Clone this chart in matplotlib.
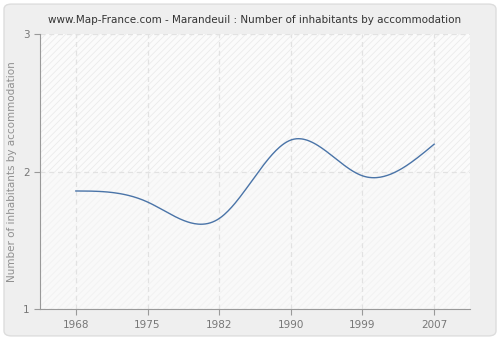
import numpy as np
import matplotlib.pyplot as plt
from matplotlib.patches import FancyBboxPatch

years = ["1968", "1975", "1982", "1990", "1999", "2007"]
inhabitants = [1.86, 1.78, 1.66, 2.23, 1.97, 2.20]
y_ticks = [1, 2, 3]


def natural_spline(x, y, n=300):
    # plain natural cubic spline, only used to draw a smooth line
    x = np.asarray(x, float)
    y = np.asarray(y, float)
    k = len(x)
    h = np.diff(x)
    A = np.zeros((k, k))
    b = np.zeros(k)
    A[0, 0] = A[-1, -1] = 1
    for i in range(1, k - 1):
        A[i, i - 1] = h[i - 1]
        A[i, i] = 2 * (h[i - 1] + h[i])
        A[i, i + 1] = h[i]
        b[i] = 6 * ((y[i + 1] - y[i]) / h[i] - (y[i] - y[i - 1]) / h[i - 1])
    m = np.linalg.solve(A, b)
    xs = np.linspace(x[0], x[-1], n)
    idx = np.clip(np.searchsorted(x, xs) - 1, 0, k - 2)
    t = xs - x[idx]
    hi = h[idx]
    a = (m[idx + 1] - m[idx]) / (6 * hi)
    bb = m[idx] / 2
    c = (y[idx + 1] - y[idx]) / hi - hi * (2 * m[idx] + m[idx + 1]) / 6
    ys = y[idx] + c * t + bb * t ** 2 + a * t ** 3
    return xs, ys


plt.rcParams["hatch.linewidth"] = 0.6

fig = plt.figure(figsize=(5, 3.4), dpi=100)
fig.patch.set_facecolor("white")
bg = FancyBboxPatch((0.008, 0.012), 0.984, 0.976, boxstyle="round,pad=0,rounding_size=0.015",
                    transform=fig.transFigure, facecolor="#efefef", edgecolor="#dddddd",
                    lw=1, zorder=-10)
fig.patches.append(bg)

ax = fig.add_axes([0.08, 0.09, 0.86, 0.81])
ax.set_facecolor("#f8f8f8")
x = np.arange(len(years))
ax.set_xlim(-0.5, 5.5)
ax.set_ylim(1, 3)

# hatched bands
ax.axhspan(2, 3, facecolor="#fbfbfb", edgecolor="#ebebeb", hatch="/////", lw=0, zorder=0)
ax.axhspan(1, 2, facecolor="#f9f9f9", edgecolor="#f2f2f2", hatch="/////", lw=0, zorder=0)

xs, ys = natural_spline(x, inhabitants)
ax.plot(xs, ys, color="#4a74a8", lw=1, zorder=3)

ax.set_xticks(x)
ax.set_xticklabels(years)
ax.set_yticks(y_ticks)
ax.grid(True, color="#e2e2e2", ls=(0, (4, 3)), lw=0.9, zorder=1)
for s in ["top", "right"]:
    ax.spines[s].set_visible(False)
for s in ["left", "bottom"]:
    ax.spines[s].set_color("#999999")
ax.tick_params(colors="#777777", labelsize=7.5, length=4, color="#999999")
ax.set_ylabel("Number of inhabitants by accommodation", color="#909090", fontsize=7.5)
ax.set_title("www.Map-France.com - Marandeuil : Number of inhabitants by accommodation",
             fontsize=7.5, color="#333333", pad=8)

fig.savefig("out.png", dpi=100)
